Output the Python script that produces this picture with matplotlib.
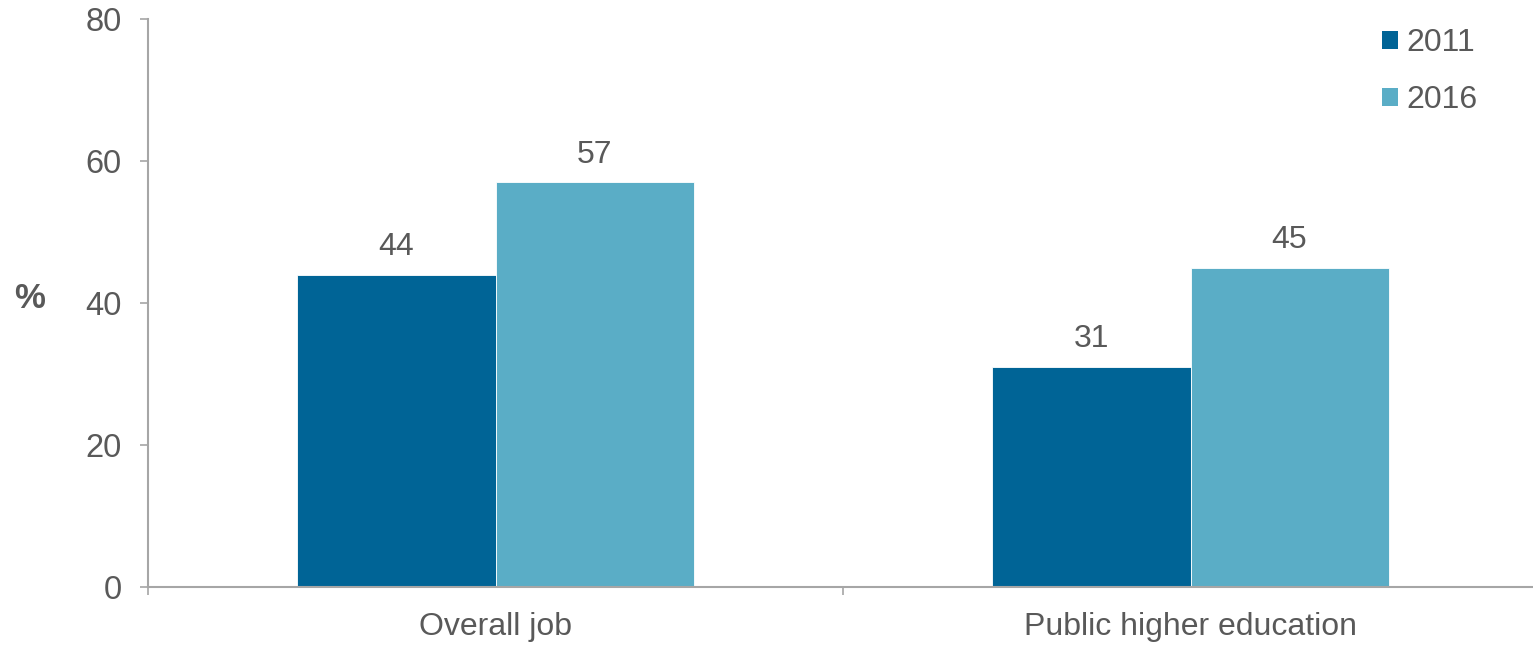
import matplotlib
matplotlib.use("Agg")
import matplotlib.pyplot as plt
from matplotlib.patches import Patch
import numpy as np

plt.rcParams["font.family"] = ["Liberation Sans", "DejaVu Sans"]

categories = ["Overall job", "Public higher education"]
years = ["2011", "2016"]
values_2011 = [44, 31]
values_2016 = [57, 45]
colors = ["#006496", "#5aadc6"]
text_gray = "#595959"
axis_gray = "#a6a6a6"

fig = plt.figure(figsize=(15.33, 6.45), dpi=100)
ax = fig.add_axes([148 / 1533, 58 / 645, 1390 / 1533, 568 / 645])

x = np.arange(len(categories))
w = 0.285
for i, (vals, c) in enumerate(zip([values_2011, values_2016], colors)):
    pos = x + (i - 0.5) * w
    ax.bar(pos, vals, width=w, color=c, edgecolor="white", linewidth=0.6)
    for p, v in zip(pos, vals):
        ax.annotate(str(v), (p, v), xytext=(0, 9), textcoords="offset points",
                    ha="center", va="bottom", fontsize=23, color=text_gray)

ax.set_xlim(-0.5, len(categories) - 0.5)
ax.set_ylim(0, 80)
ax.set_yticks([0, 20, 40, 60, 80])

ax.set_xticks([-0.5, 0.5, 1.5])
ax.set_xticklabels([])
ax.set_xticks(x, minor=True)
ax.set_xticklabels(categories, minor=True)
ax.tick_params(axis="x", which="major", direction="out", length=6, width=1.2, color=axis_gray)
ax.tick_params(axis="x", which="minor", length=0, pad=18, labelsize=23, labelcolor=text_gray)
ax.tick_params(axis="y", direction="out", length=6, width=1.2, color=axis_gray,
               pad=13, labelsize=23.5, labelcolor=text_gray)

for s in ["top", "right"]:
    ax.spines[s].set_visible(False)
for s in ["left", "bottom"]:
    ax.spines[s].set_color(axis_gray)
    ax.spines[s].set_linewidth(1.5)

fig.text(30 / 1533, 1 - 298 / 645, "%", ha="center", va="center",
         fontsize=25, fontweight="bold", color=text_gray)

handles = [Patch(facecolor=c, edgecolor="none") for c in colors]
ax.legend(handles, years, loc="upper right", bbox_to_anchor=(0.968, 1.012),
          frameon=False, fontsize=23, labelcolor=text_gray,
          handlelength=0.5, handleheight=0.5, handletextpad=0.25,
          labelspacing=0.85, borderaxespad=0.1)

fig.savefig("out.png", dpi=100)
